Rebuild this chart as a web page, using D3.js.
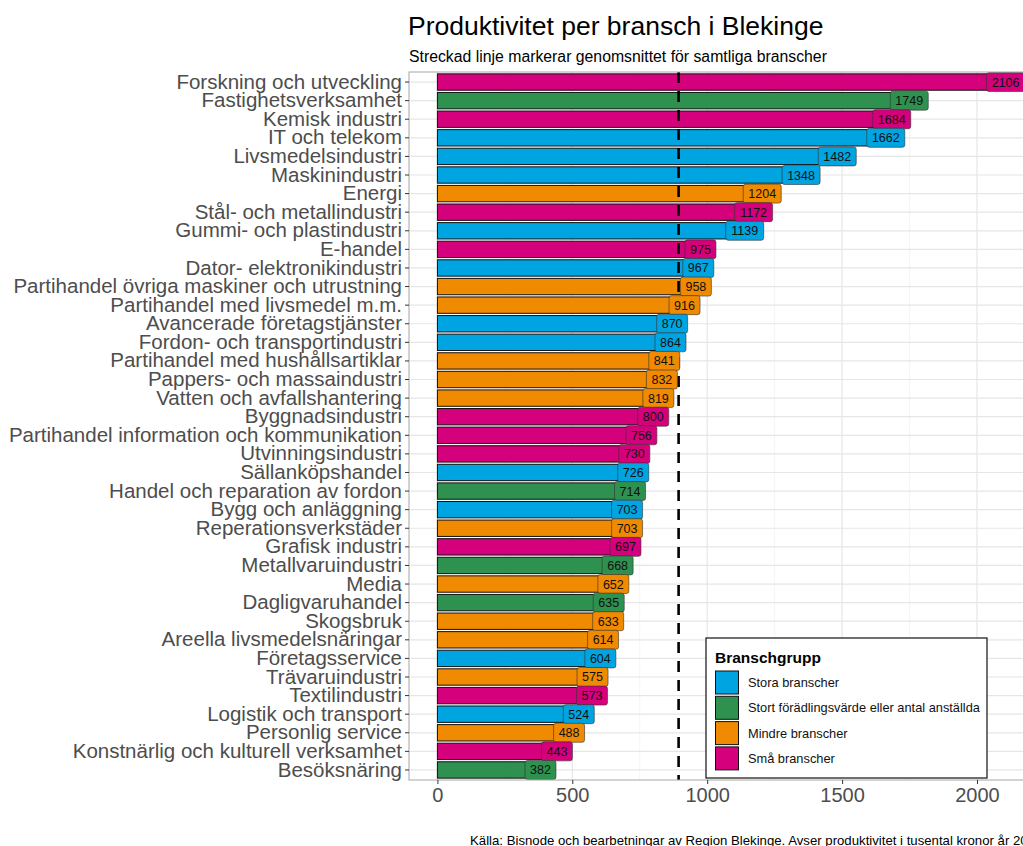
<!DOCTYPE html>
<html><head><meta charset="utf-8">
<script src="https://cdn.jsdelivr.net/npm/d3@7"></script>
<style>
html,body{margin:0;padding:0;background:#fff;overflow:hidden}
svg{display:block;font-family:"Liberation Sans",Arial,sans-serif}
</style></head><body>
<svg id="chart" width="1023" height="846"></svg>
<script>
const categories = ["Forskning och utveckling","Fastighetsverksamhet","Kemisk industri","IT och telekom","Livsmedelsindustri","Maskinindustri","Energi","Stål- och metallindustri","Gummi- och plastindustri","E-handel","Dator- elektronikindustri","Partihandel övriga maskiner och utrustning","Partihandel med livsmedel m.m.","Avancerade företagstjänster","Fordon- och transportindustri","Partihandel med hushållsartiklar","Pappers- och massaindustri","Vatten och avfallshantering","Byggnadsindustri","Partihandel information och kommunikation","Utvinningsindustri","Sällanköpshandel","Handel och reparation av fordon","Bygg och anläggning","Reperationsverkstäder","Grafisk industri","Metallvaruindustri","Media","Dagligvaruhandel","Skogsbruk","Areella livsmedelsnäringar","Företagsservice","Trävaruindustri","Textilindustri","Logistik och transport","Personlig service","Konstnärlig och kulturell verksamhet","Besöksnäring"];
const values = [2106,1749,1684,1662,1482,1348,1204,1172,1139,975,967,958,916,870,864,841,832,819,800,756,730,726,714,703,703,697,668,652,635,633,614,604,575,573,524,488,443,382];
const groups = ["Små","Stort","Små","Stora","Stora","Stora","Mindre","Små","Stora","Små","Stora","Mindre","Mindre","Stora","Stora","Mindre","Mindre","Mindre","Små","Små","Små","Stora","Stort","Stora","Mindre","Små","Stort","Mindre","Stort","Mindre","Mindre","Stora","Mindre","Små","Stora","Mindre","Små","Stort"];
const groupKeys = ["Stora","Stort","Mindre","Små"];
const groupLabels = ["Stora branscher","Stort förädlingsvärde eller antal anställda","Mindre branscher","Små branscher"];
const groupColors = ["#00a4e0","#2e9150","#f08a00","#d5007b"];
const xTicks = [0,500,1000,1500,2000];
const averageValue = 894;
const title = "Produktivitet per bransch i Blekinge";
const subtitle = "Streckad linje markerar genomsnittet för samtliga branscher";
const caption = "Källa: Bisnode och bearbetningar av Region Blekinge. Avser produktivitet i tusental kronor år 2021";
const legendTitle = "Branschgrupp";

const svg = d3.select("#chart");
const panel = {left:409, top:72, bottom:780, right:1034};
const maxV = d3.max(values);
const pad = maxV*0.05;
const x = d3.scaleLinear().domain([-pad, maxV+pad]).range([panel.left, panel.right]);
const y = d3.scaleBand().domain(categories).range([panel.top, panel.bottom]).paddingInner(0.12).paddingOuter(0.1);
const color = d3.scaleOrdinal().domain(groupKeys).range(groupColors);

// grid
const g = svg.append("g");
g.append("rect").attr("x",panel.left).attr("y",panel.top).attr("width",panel.right-panel.left).attr("height",panel.bottom-panel.top).attr("fill","#fff");
const minor = [250,750,1250,1750];
g.selectAll(".minor").data(minor).enter().append("line")
 .attr("x1",d=>x(d)).attr("x2",d=>x(d)).attr("y1",panel.top).attr("y2",panel.bottom)
 .attr("stroke","#f2f2f2").attr("stroke-width",0.8);
g.selectAll(".major").data(xTicks).enter().append("line")
 .attr("x1",d=>x(d)).attr("x2",d=>x(d)).attr("y1",panel.top).attr("y2",panel.bottom)
 .attr("stroke","#e6e6e6").attr("stroke-width",1.2);
g.selectAll(".hg").data(categories).enter().append("line")
 .attr("x1",panel.left).attr("x2",panel.right).attr("y1",d=>y(d)+y.bandwidth()/2).attr("y2",d=>y(d)+y.bandwidth()/2)
 .attr("stroke","#e6e6e6").attr("stroke-width",1.2);

// bars
svg.append("g").selectAll("rect").data(categories).enter().append("rect")
 .attr("x",x(0)).attr("y",d=>y(d)).attr("width",(d,i)=>x(values[i])-x(0)).attr("height",y.bandwidth())
 .attr("fill",(d,i)=>color(groups[i])).attr("stroke","#111").attr("stroke-width",1);

// average line
svg.append("line").attr("x1",x(averageValue)).attr("x2",x(averageValue)).attr("y1",panel.top).attr("y2",panel.bottom)
 .attr("stroke","#000").attr("stroke-width",2.6).attr("stroke-dasharray","11,8");

// value labels
const lab = svg.append("g").style("font-size","12.5px");
categories.forEach((c,i)=>{
  const txt = String(values[i]);
  const w = txt.length*7+10;
  const cx = x(values[i]), cy = y(c)+y.bandwidth()/2;
  lab.append("rect").attr("x",cx-w/2).attr("y",cy-9.5).attr("width",w).attr("height",19).attr("rx",2.5)
   .attr("fill",color(groups[i])).attr("stroke","#333").attr("stroke-width",0.6);
  lab.append("text").attr("x",cx).attr("y",cy).attr("dy","0.36em").attr("text-anchor","middle").attr("fill","#111").text(txt);
});

// panel border
svg.append("rect").attr("x",panel.left).attr("y",panel.top).attr("width",panel.right-panel.left).attr("height",panel.bottom-panel.top)
 .attr("fill","none").attr("stroke","#a6a6a6").attr("stroke-width",1);

// y axis
const yAx = svg.append("g").attr("transform",`translate(${panel.left},0)`)
 .call(d3.axisLeft(y).tickSize(4).tickPadding(3));
yAx.select(".domain").remove();
yAx.selectAll(".tick line").attr("stroke","#333");
yAx.selectAll("text").attr("fill","#4d4d4d").style("font-size","20.5px").style("font-family","Liberation Sans, Arial, sans-serif");

// x axis
const xAx = svg.append("g").attr("transform",`translate(0,${panel.bottom})`)
 .call(d3.axisBottom(x).tickValues(xTicks).tickSize(4).tickPadding(4).tickFormat(d3.format("d")));
xAx.select(".domain").remove();
xAx.selectAll(".tick line").attr("stroke","#333");
xAx.selectAll("text").attr("fill","#4d4d4d").style("font-size","20px").style("font-family","Liberation Sans, Arial, sans-serif");

// titles
svg.append("text").attr("x",408).attr("y",35).style("font-size","26.5px").attr("fill","#000").text(title);
svg.append("text").attr("x",409).attr("y",62).style("font-size","15.8px").attr("fill","#000").text(subtitle);
svg.append("text").attr("x",470).attr("y",845).style("font-size","13.2px").attr("fill","#000").text(caption);

// legend
const lg = svg.append("g");
lg.append("rect").attr("x",706).attr("y",638).attr("width",281).attr("height",140).attr("fill","#fff").attr("stroke","#111").attr("stroke-width",1.2);
lg.append("text").attr("x",715).attr("y",663).style("font-size","15.5px").style("font-weight","bold").text(legendTitle);
groupKeys.forEach((k,i)=>{
  const ky = 671 + i*25.3;
  lg.append("rect").attr("x",715.5).attr("y",ky).attr("width",23).attr("height",23).attr("fill",color(k)).attr("stroke","#111").attr("stroke-width",1);
  lg.append("text").attr("x",748).attr("y",ky+11.5).attr("dy","0.36em").style("font-size","12.8px").attr("fill","#111").text(groupLabels[i]);
});
</script>
</body></html>
